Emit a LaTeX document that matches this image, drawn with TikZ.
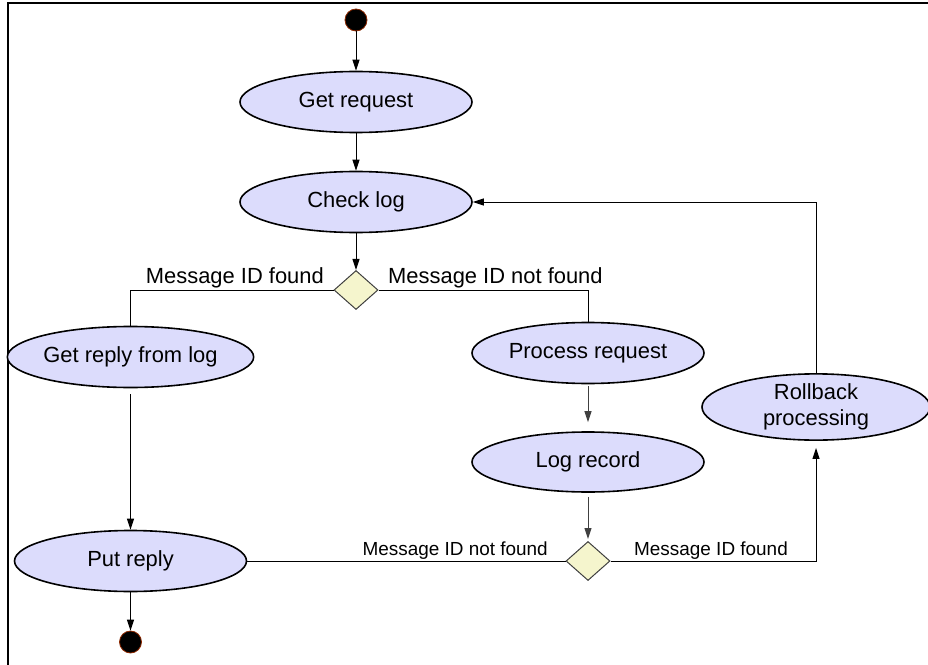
\documentclass[tikz,border=0pt]{standalone}
\usepackage{fontspec}
\setmainfont{Liberation Sans}
\usetikzlibrary{arrows.meta,shapes.geometric}
\definecolor{lav}{RGB}{220,220,252}
\definecolor{dia}{RGB}{245,245,205}
\definecolor{startred}{RGB}{140,40,0}
\tikzset{
  act/.style={ellipse,draw=black,line width=1.6bp,fill=lav,inner sep=0pt,
    minimum width=232bp,minimum height=61bp,font=\fontsize{22}{27}\selectfont,align=center},
  dec/.style={diamond,draw=black!75,line width=1bp,fill=dia,inner sep=0pt,
    minimum width=44bp,minimum height=39bp,aspect=1.13},
  dot/.style={circle,fill=black,draw=startred,line width=0.8bp,minimum size=22bp,inner sep=0pt},
  arr/.style={line width=1bp,-{Triangle[length=11bp,width=7bp]}},
  ln/.style={line width=1bp},
  biglab/.style={font=\fontsize{22}{26}\selectfont,inner sep=0pt},
  smalllab/.style={font=\fontsize{19}{23}\selectfont,inner sep=0pt}
}
\begin{document}
\begin{tikzpicture}[x=1bp,y=-1bp]
\useasboundingbox (0,0) rectangle (928,665);
\draw[line width=1.2bp] (928,3) -- (8,3) -- (8,665);

\node[dot] (start) at (356,20) {};
\node[act] (getreq) at (356,102) {Get request};
\node[act] (check) at (356,202) {Check log};
\node[dec] (d1) at (356,290) {};
\node[act,minimum width=234bp] (getreply) at (130.5,357) {Get reply from log};
\node[act] (proc) at (588,353) {Process request};
\node[act,minimum height=60bp] (logrec) at (588,462) {Log record};
\node[act,minimum width=228bp,minimum height=59bp,font=\fontsize{22}{26.5}\selectfont] (rollback) at (816,407) {Rollback\\processing};
\node[dec] (d2) at (588,561) {};
\node[act] (putreply) at (130.5,561) {Put reply};
\node[dot] (end) at (130.5,642) {};

\node[biglab,anchor=base east] (l1) at (324,283) {Message ID found};
\node[biglab,anchor=base west] (l2) at (388,283) {Message ID not found};
\node[smalllab,anchor=base east] (l3) at (548,555) {Message ID not found};
\node[smalllab,anchor=base west] (l4) at (634,555) {Message ID found};

\draw[arr] (start) -- (getreq);
\draw[arr] (getreq) -- (check);
\draw[arr] (check) -- (d1);
\draw[ln] (d1.west) -| (getreply.north);
\draw[ln] (d1.east) -| (proc.north);
\draw[arr,draw=black!75,fill=black!75,shorten <=2bp,shorten >=9bp] (proc) -- (logrec);
\draw[arr,draw=black!75,fill=black!75,shorten <=4bp,shorten >=2bp] (logrec) -- (d2);
\draw[arr,shorten <=6bp] (getreply) -- (putreply);
\draw[arr] (putreply) -- (end);
\draw[ln] (putreply.east) -- (d2.west);
\draw[arr,shorten >=7bp] (d2.east) -| (rollback.south);
\draw[arr] (rollback.north) |- (check.east);
\end{tikzpicture}
\end{document}
